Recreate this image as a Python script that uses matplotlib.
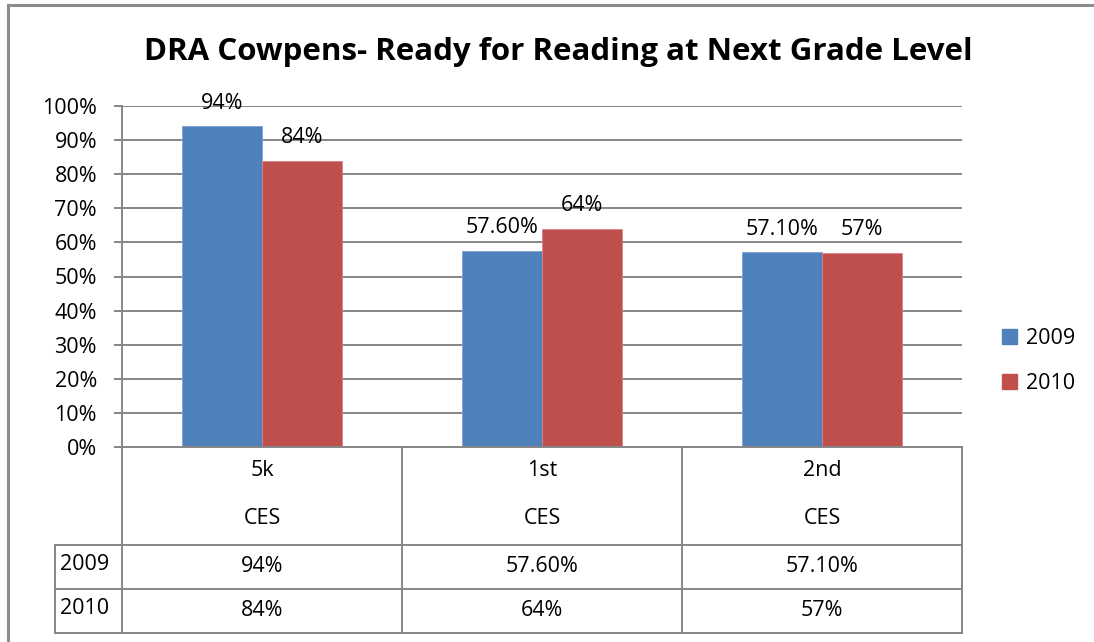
import matplotlib
matplotlib.use('Agg')
import matplotlib.pyplot as plt
from matplotlib.transforms import blended_transform_factory
from matplotlib.patches import Patch

categories = ['5k', '1st', '2nd']
groups = ['CES', 'CES', 'CES']
series_names = ['2009', '2010']
values_2009 = [94, 57.6, 57.1]
values_2010 = [84, 64, 57]
labels_2009 = ['94%', '57.60%', '57.10%']
labels_2010 = ['84%', '64%', '57%']
yticks = list(range(0, 101, 10))

BLUE = '#4F81BD'
RED = '#C0504D'
GRID = '#868686'
FONT = 'Open Sans'
FS = 15.5

W, H = 1094, 642
fig = plt.figure(figsize=(W / 100, H / 100), dpi=100)
fig.patch.set_facecolor('white')


def fx(px):
    return px / W


def fy(py):
    return 1 - py / H


# outer chart border (runs off the right/bottom of the image)
fig.add_artist(plt.Line2D([fx(8), fx(8)], [fy(5), 0], color='#8c8c8c', lw=2.2))
fig.add_artist(plt.Line2D([fx(8), 1], [fy(5), fy(5)], color='#8c8c8c', lw=2.2))

ax = fig.add_axes([fx(122), fy(447), fx(962) - fx(122), fy(106) - fy(447)])
ax.set_xlim(-0.5, len(categories) - 0.5)
ax.set_ylim(0, 100)

bw = 80 / 280
xs = list(range(len(categories)))
ax.bar([x - bw / 2 for x in xs], values_2009, width=bw, color=BLUE,
       edgecolor='#7fa3d1', lw=0.6, zorder=3, label=series_names[0])
ax.bar([x + bw / 2 for x in xs], values_2010, width=bw, color=RED,
       edgecolor='#d68482', lw=0.6, zorder=3, label=series_names[1])

for x, v, t in zip(xs, values_2009, labels_2009):
    ax.annotate(t, (x - bw / 2, v), xytext=(0, 9), textcoords='offset points',
                ha='center', va='bottom', fontsize=FS, family=FONT, zorder=4)
for x, v, t in zip(xs, values_2010, labels_2010):
    ax.annotate(t, (x + bw / 2, v), xytext=(0, 9), textcoords='offset points',
                ha='center', va='bottom', fontsize=FS, family=FONT, zorder=4)

ax.set_yticks(yticks)
ax.set_yticklabels([f'{t}%' for t in yticks], fontsize=FS, family=FONT)
ax.set_xticks([])
ax.yaxis.grid(True, color=GRID, lw=1.4, zorder=0)
for s in ['top', 'right', 'bottom']:
    ax.spines[s].set_visible(False)
ax.spines['left'].set_color(GRID)
ax.spines['left'].set_linewidth(1.4)
ax.tick_params(axis='y', length=6, width=1.4, color=GRID, pad=12)

# ── data table under the plot ───────────────────────────────────────────────
tr = blended_transform_factory(ax.transData, fig.transFigure)
x_left = -0.5 + (55 - 122) / 280
edges = [-0.5 + i for i in range(len(categories) + 1)]
lc = dict(color=GRID, lw=1.4, clip_on=False, transform=tr)

for e in edges:
    fig.add_artist(plt.Line2D([e, e], [fy(447), fy(633)], **lc))
fig.add_artist(plt.Line2D([x_left, x_left], [fy(545), fy(633)], **lc))
fig.add_artist(plt.Line2D([edges[0], edges[-1]], [fy(447), fy(447)], **lc))
for yy in [545, 589, 633]:
    fig.add_artist(plt.Line2D([x_left, edges[-1]], [fy(yy), fy(yy)], **lc))

for x, c, g, a, b in zip(xs, categories, groups, labels_2009, labels_2010):
    fig.text(x, fy(471), c, transform=tr, ha='center', va='center', fontsize=FS, family=FONT)
    fig.text(x, fy(519), g, transform=tr, ha='center', va='center', fontsize=FS, family=FONT)
    fig.text(x, fy(566), a, transform=tr, ha='center', va='center', fontsize=FS, family=FONT)
    fig.text(x, fy(610), b, transform=tr, ha='center', va='center', fontsize=FS, family=FONT)

for name, yy in zip(series_names, [564, 608]):
    fig.text(fx(60), fy(yy), name, ha='left', va='center', fontsize=FS, family=FONT)

fig.text(fx(558), fy(52), 'DRA Cowpens- Ready for Reading at Next Grade Level',
         ha='center', va='center', fontsize=22.5, fontweight='bold', family=FONT)

handles = [Patch(color=BLUE), Patch(color=RED)]
fig.legend(handles, series_names, loc='center left',
           bbox_to_anchor=(fx(983), fy(361)), frameon=False,
           handlelength=0.7, handleheight=0.7, handletextpad=0.4,
           labelspacing=1.15, prop={'family': FONT, 'size': FS})

fig.savefig('out.png', dpi=100, facecolor='white')
